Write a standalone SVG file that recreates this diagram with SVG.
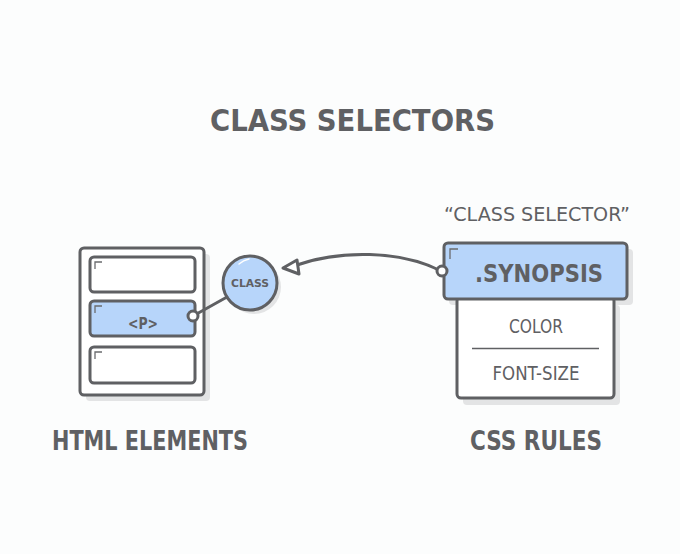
<svg xmlns="http://www.w3.org/2000/svg" width="680" height="554" viewBox="0 0 680 554">
<style>
.bg{fill:#fcfdfd}
.ln{stroke:#5f6063;stroke-width:3;fill:none;stroke-linejoin:round;stroke-linecap:round}
.box{stroke:#5f6063;stroke-width:3;stroke-linejoin:round}
.sh{fill:#e3e4e5}
.blue{fill:#b7d5fa}
.white{fill:#ffffff}
.mark{stroke:#6a6b6e;stroke-width:1.3;fill:none}
.t{font-family:"DejaVu Sans Condensed","DejaVu Sans",sans-serif;fill:#5f6063}
.b{font-weight:bold}
.thin{font-family:"Liberation Sans Narrow","DejaVu Sans Condensed","Liberation Sans",sans-serif;fill:#5f6063}
</style>
<rect class="bg" x="0" y="0" width="680" height="554"/>
<text class="t b" x="210" y="131" font-size="31" textLength="285" lengthAdjust="spacingAndGlyphs">CLASS SELECTORS</text>

<g id="html-elements">
  <rect class="sh" x="86" y="254" width="124" height="147" rx="4"/>
  <rect class="box white" x="80" y="248" width="124" height="147" rx="4"/>
  <rect class="box white" x="90" y="257" width="105" height="35" rx="4"/>
  <path class="mark" d="M95 269V262H102"/>
  <rect class="box blue" x="90" y="301" width="105" height="35" rx="4"/>
  <path class="mark" d="M95 313V306H102"/>
  <text class="t b" x="143" y="329" font-size="16" text-anchor="middle" textLength="30" lengthAdjust="spacingAndGlyphs">&lt;P&gt;</text>
  <rect class="box white" x="90" y="347" width="105" height="36" rx="4"/>
  <path class="mark" d="M95 359V352H102"/>
  <text class="t b" x="52" y="450" font-size="27" textLength="196" lengthAdjust="spacingAndGlyphs">HTML ELEMENTS</text>
</g>

<g id="class-node">
  <circle class="sh" cx="254" cy="287" r="27"/>
  <circle class="box blue" cx="250" cy="283" r="27"/>
  <path d="M239 264A22 22 0 0 1 249 259" stroke="#ffffff" stroke-width="1.5" fill="none" stroke-linecap="round"/>
  <text class="t b" x="250" y="287" font-size="11" text-anchor="middle" textLength="38" lengthAdjust="spacingAndGlyphs">CLASS</text>
</g>

<g id="css-rules">
  <text class="thin" x="444" y="221" font-size="20" textLength="186" lengthAdjust="spacingAndGlyphs">“CLASS SELECTOR”</text>
  <rect class="sh" x="463" y="305" width="157" height="100" rx="4"/>
  <rect class="sh" x="449" y="249" width="184" height="56" rx="4"/>
  <rect class="box white" x="457" y="297" width="157" height="101" rx="4"/>
  <rect class="box blue" x="444" y="243" width="183" height="56" rx="4"/>
  <path class="mark" d="M450 259V249H458"/>
  <text class="t b" x="539" y="282" font-size="24" text-anchor="middle" textLength="128" lengthAdjust="spacingAndGlyphs">.SYNOPSIS</text>
  <text class="thin" x="536" y="333" font-size="19" text-anchor="middle" textLength="54" lengthAdjust="spacingAndGlyphs">COLOR</text>
  <line x1="472" y1="348.5" x2="599" y2="348.5" stroke="#5f6063" stroke-width="1.5"/>
  <text class="thin" x="536" y="380" font-size="19" text-anchor="middle" textLength="87" lengthAdjust="spacingAndGlyphs">FONT-SIZE</text>
  <text class="t b" x="470" y="450" font-size="27" textLength="132" lengthAdjust="spacingAndGlyphs">CSS RULES</text>
</g>

<g id="connectors">
  <line class="ln" x1="193" y1="316" x2="227" y2="297"/>
  <circle cx="193" cy="316" r="5" fill="#ffffff" stroke="#5f6063" stroke-width="3"/>
  <path class="ln" d="M441 271C400 250 340 250 297 265"/>
  <path class="box" d="M283 268L297 260L299 274Z" fill="#ffffff"/>
  <circle cx="442" cy="271" r="5" fill="#ffffff" stroke="#5f6063" stroke-width="3"/>
</g>
</svg>
